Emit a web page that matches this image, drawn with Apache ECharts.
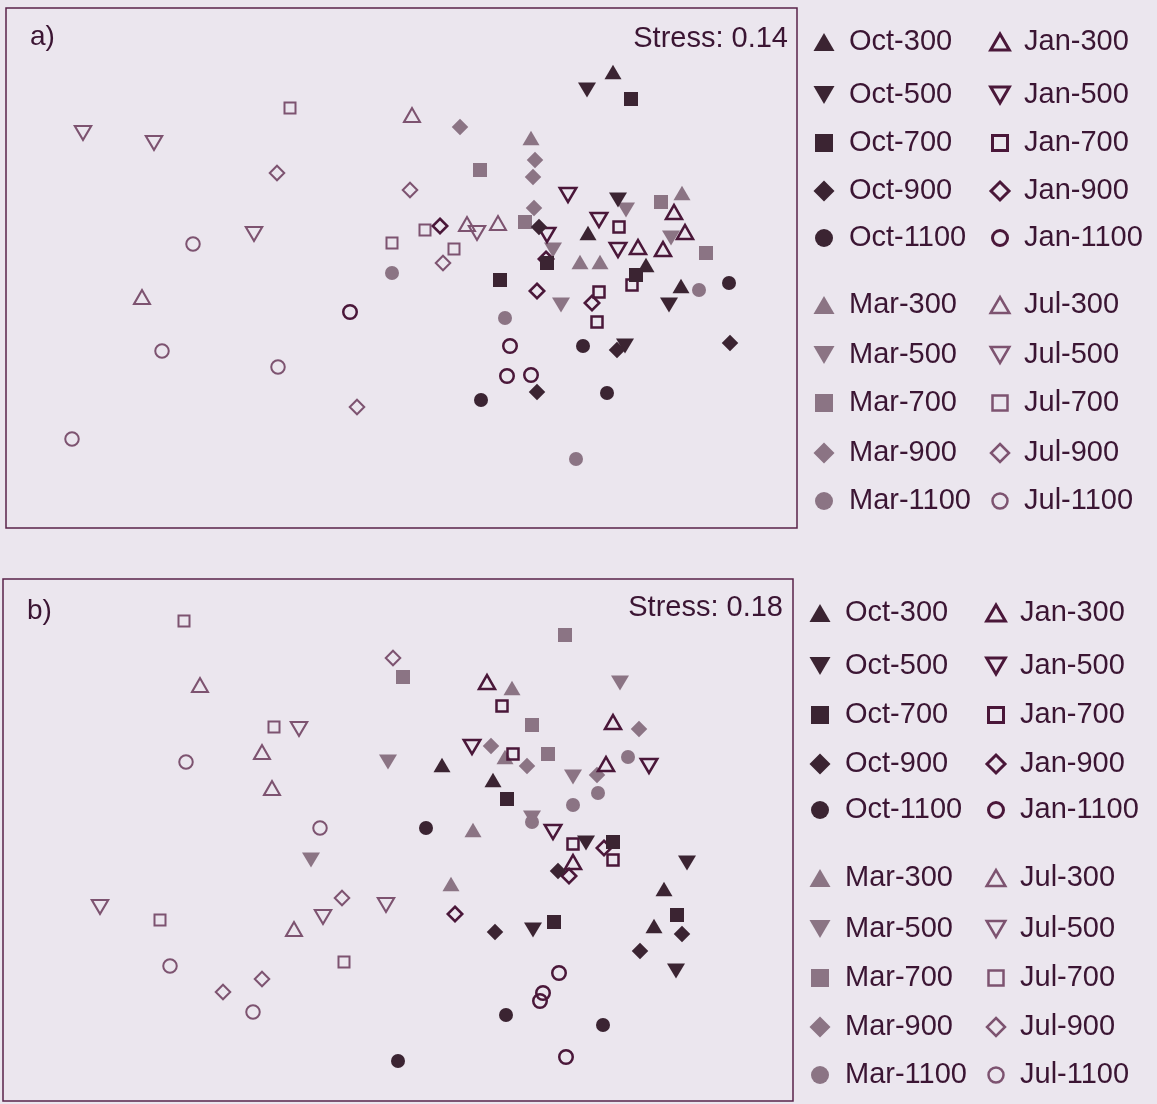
<!DOCTYPE html>
<html><head><meta charset="utf-8">
<script src="https://cdn.jsdelivr.net/npm/echarts@6/dist/echarts.min.js"></script>
<style>html,body{margin:0;padding:0;background:#ebe6ee;}#c{width:1157px;height:1104px;}</style>
</head><body><div id="c"></div>
<script>
// ---- categories ----
const months = ['Oct', 'Jan', 'Mar', 'Jul'];
const depths = [300, 500, 700, 900, 1100];
const panelLabels = ['a)', 'b)'];
const stressLabels = ['Stress: 0.14', 'Stress: 0.18'];

// ---- panel a: NMDS coordinates (plot units) ----
const aOct300 = [[607,456],[582,295],[640,263],[675,242]];
const aOct500 = [[581,438],[612,328],[663,223],[619,182]];
const aOct700 = [[625,429],[541,265],[494,248],[630,253]];
const aOct900 = [[533,301],[611,178],[724,185],[531,136]];
const aOct1100 = [[723,245],[577,182],[475,128],[601,135]];
const aJan300 = [[668,316],[679,296],[632,281],[657,279]];
const aJan500 = [[562,333],[593,308],[541,293],[612,278]];
const aJan700 = [[613,301],[626,243],[593,236],[591,206]];
const aJan900 = [[434,302],[540,269],[531,237],[586,225]];
const aJan1100 = [[344,216],[504,182],[501,152],[525,153]];
const aMar300 = [[525,390],[676,335],[574,266],[594,266]];
const aMar500 = [[620,318],[665,290],[547,278],[555,223]];
const aMar700 = [[474,358],[519,306],[655,326],[700,275]];
const aMar900 = [[454,401],[529,368],[527,351],[528,320]];
const aMar1100 = [[386,255],[499,210],[693,238],[570,69]];
const aJul300 = [[406,413],[461,304],[492,305],[136,231]];
const aJul500 = [[77,395],[148,385],[248,294],[471,295]];
const aJul700 = [[284,420],[386,285],[419,298],[448,279]];
const aJul900 = [[271,355],[404,338],[437,265],[351,121]];
const aJul1100 = [[187,284],[156,177],[272,161],[66,89]];

// ---- panel b ----
const bOct300 = [[439,336],[490,321],[661,212],[651,175]];
const bOct500 = [[583,258],[684,238],[530,171],[673,130]];
const bOct700 = [[504,302],[610,259],[551,179],[674,186]];
const bOct900 = [[555,230],[492,169],[679,167],[637,150]];
const bOct1100 = [[423,273],[503,86],[600,76],[395,40]];
const bJan300 = [[484,419],[610,379],[603,337],[570,239]];
const bJan500 = [[469,354],[646,335],[550,269]];
const bJan700 = [[499,395],[510,347],[570,257],[610,241]];
const bJan900 = [[601,253],[566,225],[452,187]];
const bJan1100 = [[556,128],[540,108],[537,100],[563,44]];
const bMar300 = [[509,413],[502,344],[470,271],[448,217]];
const bMar500 = [[617,418],[570,324],[529,283],[385,339],[308,241]];
const bMar700 = [[562,466],[400,424],[529,376],[545,347]];
const bMar900 = [[636,372],[488,355],[524,335],[594,326]];
const bMar1100 = [[625,344],[595,308],[570,296],[529,279]];
const bJul300 = [[197,416],[259,349],[269,313],[291,172]];
const bJul500 = [[296,372],[97,194],[320,184],[383,196]];
const bJul700 = [[181,480],[271,374],[157,181],[341,139]];
const bJul900 = [[390,443],[339,203],[259,122],[220,109]];
const bJul1100 = [[183,339],[317,273],[167,135],[250,89]];

const panelData = [
  {Oct:[aOct300,aOct500,aOct700,aOct900,aOct1100], Jan:[aJan300,aJan500,aJan700,aJan900,aJan1100],
   Mar:[aMar300,aMar500,aMar700,aMar900,aMar1100], Jul:[aJul300,aJul500,aJul700,aJul900,aJul1100]},
  {Oct:[bOct300,bOct500,bOct700,bOct900,bOct1100], Jan:[bJan300,bJan500,bJan700,bJan900,bJan1100],
   Mar:[bMar300,bMar500,bMar700,bMar900,bMar1100], Jul:[bJul300,bJul500,bJul700,bJul900,bJul1100]}
];

// ---- styles / layout ----
const BG = '#ebe6ee';
const TXT = '#3b1533';
const FONT = '"Liberation Sans", Arial, sans-serif';
const monthStyle = {
  Oct: {hollow:false, color:'#3b2432'},
  Jan: {hollow:true, color:'#4a1739', bw:2.5, legendBw:3},
  Mar: {hollow:false, color:'#8b7484'},
  Jul: {hollow:true, color:'#7d5370', bw:2, legendBw:2.5}
};
const SYM = {
  300: 'path://M0,18L10.5,0L21,18Z',
  500: 'path://M0,0L21,0L10.5,18Z',
  700: 'path://M0,0L10,0L10,10L0,10Z',
  900: 'path://M10,0L20,10L10,20L0,10Z',
  1100: 'path://M0,10A10,10,0,1,1,20,10A10,10,0,1,1,0,10Z'
};
const filledSize = {300:[17,14.5], 500:[18,15], 700:[14,14], 900:[16.5,16.5], 1100:[14,14]};
const hollowSize = {300:[16,14], 500:[16.5,14], 700:[11,11], 900:[14.5,14.5], 1100:[13.5,13.5]};
const legendH = {300:18, 500:18, 700:18, 900:21, 1100:18};
const legendHollowH = {300:16, 500:16, 700:15, 900:18, 1100:15};

const grids = [
  {left:6, top:8, width:791, height:520},
  {left:3, top:579, width:790, height:522}
];
const legendRows = [
  [42, 95, 143, 191, 238, 305, 355, 403, 453, 501],
  [613, 666, 715, 764, 810, 878, 929, 978, 1027, 1075]
];
const legendCols = [ // [symbol centre, item box width]
  [[824, 40], [1000, 38]],
  [[820, 40], [996, 38]]
];
const labelPos = [
  {panel:{left:30, top:22}, stress:{right:369, top:24}},
  {panel:{left:27, top:596}, stress:{right:374, top:593}}
];

const series = [];
const drawOrder = ['Jul', 'Mar', 'Jan', 'Oct'];
for (let p = 0; p < 2; p++) {
  drawOrder.forEach(m => {
    depths.forEach((d, i) => {
      const st = monthStyle[m];
      series.push({
        type: 'scatter',
        name: m + '-' + d,
        xAxisIndex: p, yAxisIndex: p,
        symbol: SYM[d],
        symbolSize: st.hollow ? hollowSize[d] : filledSize[d],
        itemStyle: st.hollow
          ? {color: 'rgba(0,0,0,0)', borderColor: st.color, borderWidth: st.bw, opacity: 1}
          : {color: st.color, opacity: 1},
        emphasis: {disabled: true},
        silent: true,
        data: panelData[p][m][i]
      });
    });
  });
}

const legends = [];
for (let p = 0; p < 2; p++) {
  const groups = [[['Oct','Jan'], 0], [['Mar','Jul'], 5]];
  groups.forEach(([pair, off]) => {
    pair.forEach((m, c) => {
      const [cx, w] = legendCols[p][c];
      const st = monthStyle[m];
      depths.forEach((d, i) => {
        const y = legendRows[p][off + i];
        const h = st.hollow ? legendHollowH[d] : legendH[d];
        const symW = (d === 300 || d === 500) ? h * 21 / 18 : h;
        const item = {name: m + '-' + d};
        if (st.hollow) item.itemStyle = {borderWidth: st.legendBw, borderColor: st.color, color: 'rgba(0,0,0,0)'};
        legends.push({
          data: [item],
          orient: 'vertical',
          left: cx - symW / 2 - (st.hollow ? st.legendBw / 2 : 0),
          top: y - 18,
          padding: 0,
          itemGap: 0,
          itemWidth: w,
          itemHeight: h,
          symbolKeepAspect: true,
          selectedMode: false,
          textStyle: {fontSize: 29, lineHeight: 30, padding: [6, 0, 0, 0], color: TXT, fontFamily: FONT}
        });
      });
    });
  });
}

const titles = [];
for (let p = 0; p < 2; p++) {
  titles.push({text: panelLabels[p], left: labelPos[p].panel.left, top: labelPos[p].panel.top, padding: 0,
    textStyle: {fontSize: 28, lineHeight: 30, fontWeight: 'normal', color: TXT, fontFamily: FONT}});
  titles.push({text: stressLabels[p], right: labelPos[p].stress.right, top: labelPos[p].stress.top, padding: 0,
    textStyle: {fontSize: 29, lineHeight: 30, fontWeight: 'normal', color: TXT, fontFamily: FONT}});
}

const chart = echarts.init(document.getElementById('c'), null, {renderer: 'canvas'});
chart.setOption({
  backgroundColor: BG,
  animation: false,
  title: titles,
  legend: legends,
  grid: grids.map(g => Object.assign({show: true, borderColor: '#5a2349', borderWidth: 1.5, backgroundColor: 'transparent'}, g)),
  xAxis: [
    {gridIndex: 0, type: 'value', min: 0, max: 791, show: false},
    {gridIndex: 1, type: 'value', min: 0, max: 790, show: false}
  ],
  yAxis: [
    {gridIndex: 0, type: 'value', min: 0, max: 520, show: false},
    {gridIndex: 1, type: 'value', min: 0, max: 522, show: false}
  ],
  series: series
});
</script></body></html>
